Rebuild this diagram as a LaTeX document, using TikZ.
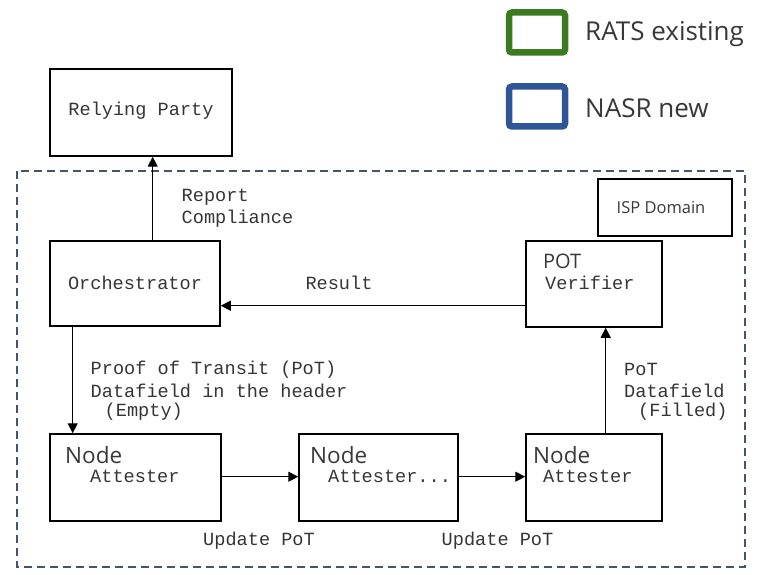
\documentclass[tikz,border=0pt]{standalone}
\usepackage{fontspec}
\setmainfont{Open Sans}
\newfontfamily\monofont{Liberation Mono}
\newfontfamily\uifont{Open Sans}
\usetikzlibrary{arrows.meta}
\definecolor{ratsgreen}{HTML}{3B7A1E}
\definecolor{nasrblue}{HTML}{2F5597}
\definecolor{domainline}{HTML}{44546A}
\definecolor{labelgray}{HTML}{383838}
\definecolor{monoink}{HTML}{353535}
\tikzset{
  box/.style={draw=black, line width=1.5pt, rectangle, inner sep=0pt},
  arr/.style={line width=1.3pt, -{Triangle[length=10pt,width=10pt]}},
  mono/.style={font=\monofont\fontsize{18.6}{21}\selectfont, text=monoink, inner sep=0pt},
  sans/.style={font=\uifont\fontsize{20}{24}\selectfont, text=labelgray, inner sep=0pt},
  nodetitle/.style={font=\uifont\fontsize{22.5}{26}\selectfont, text=labelgray, inner sep=0pt, anchor=west},
  legendbox/.style={rectangle, rounded corners=3pt, line width=6.5pt, minimum width=56pt, minimum height=40pt, inner sep=0pt},
  legendtext/.style={font=\uifont\fontsize{26}{30}\selectfont, text=labelgray, anchor=west, inner sep=0pt},
}
\begin{document}
\begin{tikzpicture}[x=1pt, y=-1pt]
\useasboundingbox (0,0) rectangle (758,575);

% legend
\node[legendbox, draw=ratsgreen] (leg1) at (537,32.5) {};
\node[legendtext] (leg1t) at (585,34) {RATS existing};
\node[legendbox, draw=nasrblue] (leg2) at (537,106.5) {};
\node[legendtext] (leg2t) at (585,108) {NASR new};

% ISP domain boundary
\draw[domainline, line width=1.5pt, dash pattern=on 8pt off 5pt] (17,171) rectangle (745,567);

% boxes
\node[box, minimum width=182pt, minimum height=87pt] (rp) at (141,112.5) {};
\node[mono] (rpt) at (141,111) {Relying Party};

\node[box, minimum width=170pt, minimum height=85pt] (orch) at (135,283.5) {};
\node[mono] (orcht) at (135,283) {Orchestrator};

\node[box, minimum width=134pt, minimum height=57pt] (isp) at (665,207.5) {};
\node[font=\uifont\fontsize{16.5}{19}\selectfont, text=labelgray, inner sep=0pt] (ispt) at (661,208) {ISP Domain};

\node[box, minimum width=136pt, minimum height=86pt] (pot) at (594,284) {};
\node[sans, anchor=west] (pott) at (543,261) {POT};
\node[mono, anchor=west] (potv) at (545,283) {Verifier};

\node[box, minimum width=171pt, minimum height=87pt] (n1) at (135.5,477.5) {};
\node[nodetitle] (n1a) at (65,455) {Node};
\node[mono, anchor=west] (n1b) at (90,476.5) {Attester};

\node[box, minimum width=159pt, minimum height=87pt] (n2) at (378.5,477.5) {};
\node[nodetitle] (n2a) at (310,455) {Node};
\node[mono, anchor=west] (n2b) at (328,476.5) {Attester...};

\node[box, minimum width=136pt, minimum height=87pt] (n3) at (594,477.5) {};
\node[nodetitle] (n3a) at (533,455) {Node};
\node[mono, anchor=west] (n3b) at (543,476.5) {Attester};

% connectors
\draw[arr] ([xshift=17.7pt]orch.north) -- ([xshift=11.7pt]rp.south);
\draw[arr] ([yshift=-21.7pt]pot.west) -- ([yshift=-22.2pt]orch.east);
\draw[arr] ([xshift=-62.3pt]orch.south) -- ([xshift=-62.8pt]n1.north);
\draw[arr] ([xshift=11.7pt]n3.north) -- ([xshift=11.7pt]pot.south);
\draw[arr] ([yshift=0.8pt]n1.east) -- ([yshift=0.8pt]n2.west);
\draw[arr] ([yshift=0.8pt]n2.east) -- ([yshift=0.8pt]n3.west);

% connector labels
\node[mono, anchor=west] (rep1) at (181.5,197.5) {Report};
\node[mono, anchor=west] (rep2) at (181.5,218.5) {Compliance};
\node[mono] (res) at (339,283) {Result};
\node[mono, anchor=west] (pf1) at (90.5,369.5) {Proof of Transit (PoT)};
\node[mono, anchor=west] (pf2) at (90.5,390.5) {Datafield in the header};
\node[mono, anchor=west] (pf3) at (104.5,411.5) {(Empty)};
\node[mono, anchor=west] (fl1) at (624,369.5) {PoT};
\node[mono, anchor=west] (fl2) at (624,390.5) {Datafield};
\node[mono, anchor=west] (fl3) at (638,411.5) {(Filled)};
\node[mono, anchor=west] (up1) at (203,541) {Update PoT};
\node[mono, anchor=west] (up2) at (441.5,541) {Update PoT};
\end{tikzpicture}
\end{document}
